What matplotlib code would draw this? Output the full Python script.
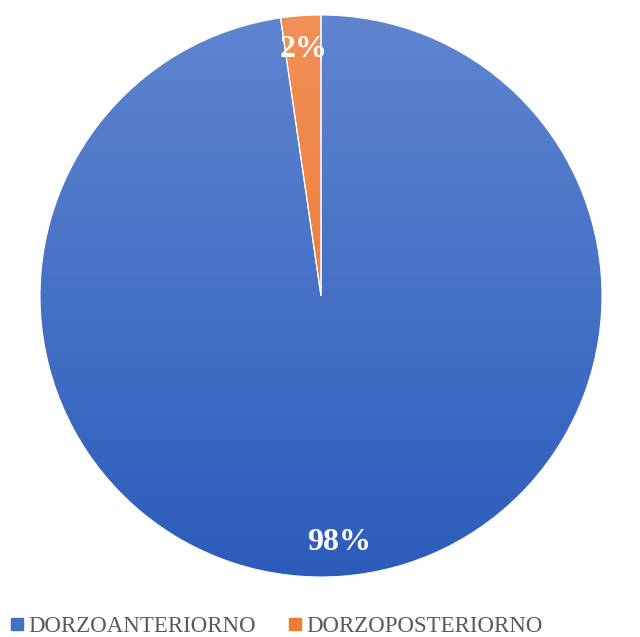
import numpy as np
import matplotlib.pyplot as plt
from matplotlib.colors import LinearSegmentedColormap
from matplotlib.lines import Line2D

# Datos del gráfico
categorias = ['DORZOANTERIORNO', 'DORZOPOSTERIORNO']
valores = [97.7, 2.3]
colores_arriba = ['#5F85D0', '#F29058']
colores_abajo = ['#2C5CBB', '#E8701F']
colores_base = ['#4472C4', '#ED7D31']

plt.rcParams['font.family'] = ['Liberation Serif', 'DejaVu Serif']

fig = plt.figure(figsize=(6.4, 6.37), dpi=100)
ax = fig.add_axes([40 / 640, 60 / 637, 562 / 640, 562 / 637])

wedges, _, textos = ax.pie(valores, colors=colores_base, startangle=90, counterclock=False,
                           wedgeprops=dict(linewidth=0.8, edgecolor='white'),
                           autopct='%1.0f%%', pctdistance=0.88)

# Degradado vertical dentro de cada sector
for w, c1, c2 in zip(wedges, colores_arriba, colores_abajo):
    cmap = LinearSegmentedColormap.from_list('g', [c2, c1])
    grad = np.linspace(0, 1, 256).reshape(-1, 1)
    im = ax.imshow(grad, cmap=cmap, extent=[-1, 1, -1, 1], origin='lower',
                   aspect='auto', zorder=w.get_zorder() - 0.1)
    im.set_clip_path(w)
    w.set_facecolor('none')

for t in textos:
    t.set_color('white')
    t.set_fontweight('bold')
    t.set_fontsize(23)

ax.set_xlim(-1, 1)
ax.set_ylim(-1, 1)
ax.set_aspect('equal')
ax.axis('off')

handles = [Line2D([], [], marker='s', linestyle='none', markersize=8,
                  markerfacecolor=c, markeredgecolor=c) for c in colores_base]
fig.legend(handles, categorias, loc='center left', bbox_to_anchor=(11 / 640, 11 / 637),
           ncol=2, frameon=False, fontsize=16.5, labelcolor='#595959',
           borderpad=0, borderaxespad=0, handlelength=0.5,
           handletextpad=0.25, columnspacing=1.45)

fig.savefig('out.png', dpi=100)
